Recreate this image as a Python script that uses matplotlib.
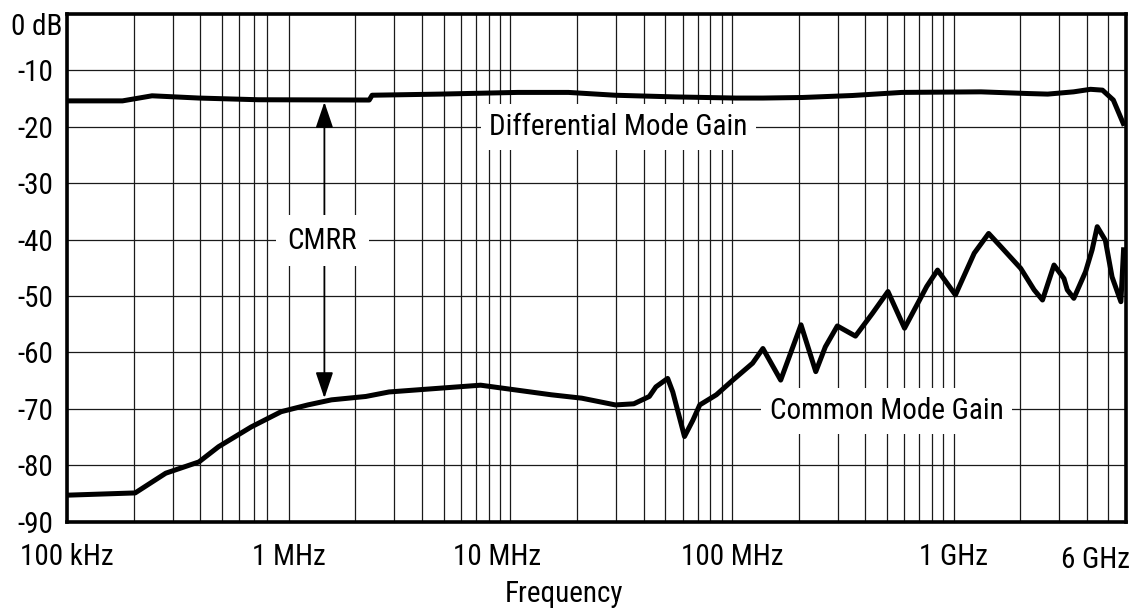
import numpy as np
import matplotlib
matplotlib.use('Agg')
import matplotlib.pyplot as plt
from matplotlib.ticker import FixedLocator, NullFormatter
import matplotlib.transforms as mtransforms

plt.rcParams['font.family'] = ['Roboto Condensed', 'DejaVu Sans Condensed', 'Liberation Sans']
plt.rcParams['font.size'] = 21

# Differential mode gain (Hz, dB)
diff_freq = [1.00e5, 1.78e5, 2.42e5, 3.94e5, 7.29e5, 2.31e6, 2.38e6, 4.81e6,
             1.08e7, 1.83e7, 2.97e7, 5.57e7, 1.04e8, 1.38e8, 2.08e8, 3.49e8,
             5.85e8, 1.33e9, 2.17e9, 2.66e9, 3.48e9, 4.15e9, 4.70e9, 5.26e9, 5.83e9]
diff_db = [-15.4, -15.4, -14.5, -14.9, -15.2, -15.25, -14.4, -14.2,
           -13.9, -13.9, -14.4, -14.7, -14.9, -14.9, -14.8, -14.45,
           -13.9, -13.8, -14.1, -14.2, -13.8, -13.35, -13.5, -15.25, -19.4]

# Common mode gain (Hz, dB)
cm_freq = [1.00e5, 2.03e5, 2.79e5, 3.94e5, 4.83e5, 6.78e5, 9.25e5, 1.22e6,
           1.56e6, 2.23e6, 2.84e6, 7.35e6, 1.53e7, 2.10e7, 2.98e7, 3.61e7,
           4.24e7, 4.54e7, 5.13e7, 5.41e7, 6.11e7, 6.67e7, 7.16e7, 8.51e7,
           1.01e8, 1.24e8, 1.38e8, 1.66e8, 2.05e8, 2.39e8, 2.64e8, 2.99e8,
           3.61e8, 4.30e8, 5.06e8, 6.01e8, 7.57e8, 8.47e8, 1.02e9, 1.24e9,
           1.44e9, 1.64e9, 2.01e9, 2.31e9, 2.52e9, 2.84e9, 3.15e9, 3.26e9,
           3.49e9, 3.94e9, 4.22e9, 4.45e9, 4.84e9, 5.19e9, 5.69e9, 5.85e9]
cm_db = [-85.3, -84.9, -81.4, -79.4, -76.7, -73.2, -70.5, -69.3,
         -68.4, -67.8, -67.0, -65.8, -67.5, -68.1, -69.3, -69.1,
         -67.8, -66.1, -64.6, -67.0, -74.9, -72.0, -69.3, -67.5,
         -64.9, -61.9, -59.3, -64.9, -55.1, -63.4, -59.0, -55.3,
         -57.1, -53.1, -49.2, -55.7, -48.3, -45.4, -49.8, -42.4,
         -38.9, -41.3, -45.1, -48.9, -50.7, -44.5, -46.9, -48.9,
         -50.4, -45.7, -41.8, -37.7, -40.1, -46.6, -51.0, -41.8]

x_ticks = [1e5, 1e6, 1e7, 1e8, 1e9, 6e9]
x_labels = ['100 kHz', '1 MHz', '10 MHz', '100 MHz', '1 GHz', '6 GHz']
y_ticks = [0, -10, -20, -30, -40, -50, -60, -70, -80, -90]
y_labels = ['', '-10', '-20', '-30', '-40', '-50', '-60', '-70', '-80', '-90']

fig = plt.figure(figsize=(11.33, 6.12), dpi=100)
ax = fig.add_axes([67/1133, 1 - 521.7/612, (1126 - 67)/1133, (521.7 - 14)/612])

ax.plot(diff_freq, diff_db, color='black', lw=3.6, solid_joinstyle='round', zorder=3)
ax.plot(cm_freq, cm_db, color='black', lw=3.6, solid_joinstyle='round', zorder=3)

ax.set_xscale('log')
ax.set_xlim(1e5, 6e9)
ax.set_ylim(-90, 0)

# grid: every 1..9 per decade (the 900 kHz line is absent in the original)
minor = [m * 10**d for d in range(5, 10) for m in range(2, 10) if m * 10**d < 6e9]
minor = [v for v in minor if v != 9e5]
ax.xaxis.set_major_locator(FixedLocator(x_ticks))
ax.xaxis.set_minor_locator(FixedLocator(minor))
ax.xaxis.set_minor_formatter(NullFormatter())
ax.set_xticklabels(x_labels)
ax.set_yticks(y_ticks)
ax.set_yticklabels(y_labels)
ax.grid(True, which='both', axis='x', color='#1a1a1a', lw=0.9)
ax.grid(True, which='major', axis='y', color='#1a1a1a', lw=0.9)
ax.set_axisbelow(True)
ax.tick_params(which='both', length=0)
ax.tick_params(axis='x', pad=15)
ax.tick_params(axis='y', pad=10)

for s in ax.spines.values():
    s.set_linewidth(2.6)
    s.set_color('black')

# last label sits left of the right edge
lab = ax.xaxis.get_major_ticks()[-1].label1
lab.set_horizontalalignment('right')
lab.set_transform(lab.get_transform() + mtransforms.ScaledTranslation(4/100, -3/100, fig.dpi_scale_trans))
lab = ax.xaxis.get_major_ticks()[2].label1
lab.set_transform(lab.get_transform() + mtransforms.ScaledTranslation(-13/100, 0, fig.dpi_scale_trans))

ax.annotate('0 dB', xy=(0, 0), xycoords=('axes fraction', 'data'), xytext=(-3, 1),
            textcoords='offset points', ha='right', va='top', annotation_clip=False)

box = dict(boxstyle='square,pad=0.3', fc='white', ec='none')
ax.text(3.08e7, -20, 'Differential Mode Gain', ha='center', va='center', bbox=box, zorder=5)
ax.text(5.0e8, -70.4, 'Common Mode Gain', ha='center', va='center', bbox=box, zorder=5)

ax.annotate('', xy=(1.45e6, -15.6), xytext=(1.45e6, -68.1),
            arrowprops=dict(arrowstyle='<|-|>,head_length=0.8,head_width=0.27',
                            mutation_scale=20, color='black', lw=1.3,
                            shrinkA=0, shrinkB=0), zorder=4)
ax.text(1.42e6, -40.2, 'CMRR', ha='center', va='center',
        bbox=dict(boxstyle='square,pad=0.4', fc='white', ec='none'), zorder=5)

fig.text(564/1133, 1 - 594/612, 'Frequency', ha='center', va='center')

fig.savefig('out.png', dpi=100)
